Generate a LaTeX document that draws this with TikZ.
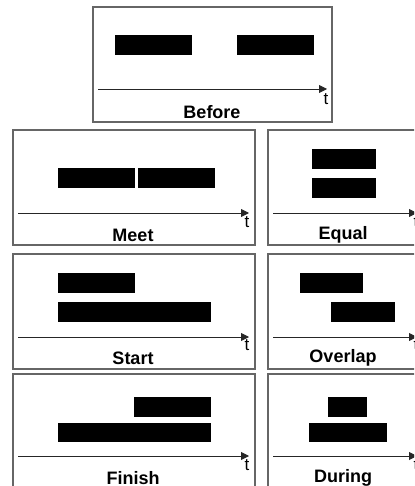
\documentclass[tikz,border=0pt]{standalone}
\usepackage{fontspec}
\setmainfont{Liberation Sans}
\usetikzlibrary{arrows.meta}

\begin{document}
\begin{tikzpicture}[x=1pt,y=-1pt,
  panel/.style={draw=black!60,line width=1.2pt},
  bar/.style={fill=black},
  axis/.style={line width=0.9pt,draw=black!85,-{Triangle[length=8pt,width=8pt]}},
  tlabel/.style={font=\fontsize{17}{17}\selectfont,inner sep=0pt},
  caption/.style={font=\fontsize{18}{20}\selectfont\bfseries,inner sep=0pt}]
\useasboundingbox (0,0) rectangle (414,486);
\clip (0,0) rectangle (414,486);

% Before
\draw[panel] (93,7) rectangle (332,122);
\fill[bar] (115,35) rectangle (192,55);
\fill[bar] (237,35) rectangle (314,55);
\draw[axis] (98,89) -- (327,89);
\node[tlabel] (tbefore) at (326,99) {t};
\node[caption] (before) at (212,112) {Before};

% Meet
\draw[panel] (13,130) rectangle (255,245);
\fill[bar] (58,168) rectangle (135,188);
\fill[bar] (138,168) rectangle (215,188);
\draw[axis] (18,213) -- (249,213);
\node[tlabel] (tmeet) at (247,222) {t};
\node[caption] (meet) at (133,235) {Meet};

% Equal
\draw[panel] (268,130) rectangle (424,245);
\fill[bar] (312,149) rectangle (376,169);
\fill[bar] (312,178) rectangle (376,198);
\draw[axis] (273,213) -- (417,213);
\node[tlabel] (tequal) at (416,222) {t};
\node[caption] (equal) at (343,235) {Equal};

% Start
\draw[panel] (13,254) rectangle (255,369);
\fill[bar] (58,273) rectangle (135,293);
\fill[bar] (58,302) rectangle (211,322);
\draw[axis] (18,337) -- (249,337);
\node[tlabel] (tstart) at (247,345) {t};
\node[caption] (start) at (133,358) {Start};

% Overlap
\draw[panel] (268,254) rectangle (424,369);
\fill[bar] (300,273) rectangle (363,293);
\fill[bar] (331,302) rectangle (395,322);
\draw[axis] (273,337) -- (417,337);
\node[tlabel] (toverlap) at (416,345) {t};
\node[caption] (overlap) at (343,358) {Overlap};

% Finish
\draw[panel] (13,374) rectangle (255,494);
\fill[bar] (134,397) rectangle (211,417);
\fill[bar] (58,423) rectangle (211,442);
\draw[axis] (18,456) -- (249,456);
\node[tlabel] (tfinish) at (247,465) {t};
\node[caption] (finish) at (133,478) {Finish};

% During
\draw[panel] (268,374) rectangle (424,494);
\fill[bar] (328,397) rectangle (367,417);
\fill[bar] (309,423) rectangle (387,442);
\draw[axis] (273,456) -- (417,456);
\node[tlabel] (tduring) at (416,465) {t};
\node[caption] (during) at (343,478) {During};
\end{tikzpicture}
\end{document}
